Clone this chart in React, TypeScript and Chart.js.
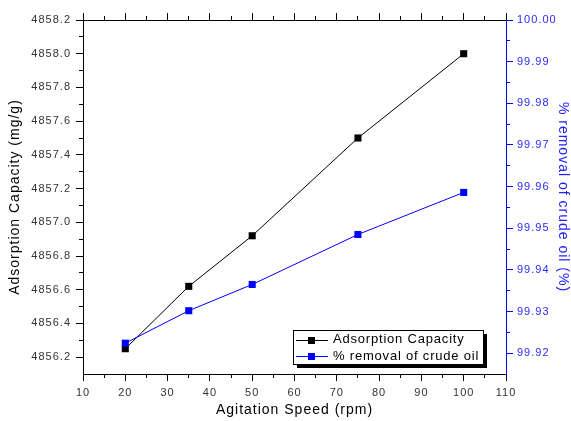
import React, { useEffect, useRef } from 'react';
import { Chart, registerables } from 'chart.js';

Chart.register(...registerables);

const speeds = [20, 35, 50, 75, 100];
const adsorptionCapacity = [4856.25, 4856.62, 4856.92, 4857.5, 4858.0];
const crudeOilRemoval = [99.9224, 99.9302, 99.9365, 99.9485, 99.9586];

const xTicks = [10, 20, 30, 40, 50, 60, 70, 80, 90, 100, 110];
const xMinorTicks = [15, 25, 35, 45, 55, 65, 75, 85, 95, 105];
const leftTicks = [4856.2, 4856.4, 4856.6, 4856.8, 4857.0, 4857.2, 4857.4, 4857.6, 4857.8, 4858.0, 4858.2];
const leftMinorTicks = [4856.3, 4856.5, 4856.7, 4856.9, 4857.1, 4857.3, 4857.5, 4857.7, 4857.9, 4858.1];
const rightTicks = [99.92, 99.93, 99.94, 99.95, 99.96, 99.97, 99.98, 99.99, 100.0];
const rightMinorTicks = [99.925, 99.935, 99.945, 99.955, 99.965, 99.975, 99.985, 99.995];

const seriesNames = ['Adsorption Capacity', '% removal of crude oil'];
const xTitle = 'Agitation Speed (rpm)';
const leftTitle = 'Adsorption Capacity (mg/g)';
const rightTitle = '% removal of crude oil (%)';

const FONT = "'Liberation Sans', Arial, sans-serif";
const BLUE = '#0000ff';

const align = (p: number) => Math.round(p - 0.5) + 0.5;

const customPlugin = {
  id: 'customDecor',
  beforeDraw(chart: any) {
    chart.ctx.letterSpacing = '1px';
  },
  afterDraw(chart: any) {
    const ctx = chart.ctx;
    const { left, right, top, bottom } = chart.chartArea;
    const xs = chart.scales.x;
    const ys = chart.scales.y;
    const y1s = chart.scales.y1;
    ctx.save();
    ctx.letterSpacing = '0px';
    ctx.lineWidth = 1;
    // minor ticks
    ctx.strokeStyle = '#000';
    ctx.beginPath();
    xMinorTicks.forEach((v) => {
      const x = align(xs.getPixelForValue(v));
      ctx.moveTo(x, bottom);
      ctx.lineTo(x, bottom + 4);
      ctx.moveTo(x, top);
      ctx.lineTo(x, top - 4);
    });
    leftMinorTicks.forEach((v) => {
      const y = align(ys.getPixelForValue(v));
      ctx.moveTo(left, y);
      ctx.lineTo(left - 4, y);
    });
    ctx.stroke();
    ctx.strokeStyle = BLUE;
    ctx.beginPath();
    rightMinorTicks.forEach((v) => {
      const y = align(y1s.getPixelForValue(v));
      ctx.moveTo(right, y);
      ctx.lineTo(right + 4, y);
    });
    ctx.stroke();

    // legend box with shadow
    const bx = 293, by = 330, bw = 190, bh = 34;
    ctx.fillStyle = '#000';
    ctx.fillRect(bx + 4, by + 4, bw, bh);
    ctx.fillStyle = '#fff';
    ctx.fillRect(bx, by, bw, bh);
    ctx.strokeStyle = '#000';
    ctx.strokeRect(bx + 0.5, by + 0.5, bw, bh);

    const rows = [
      { y: 339.5, color: '#000', text: seriesNames[0] },
      { y: 356, color: BLUE, text: seriesNames[1] },
    ];
    rows.forEach((r) => {
      const ly = Math.round(r.y) + 0.5;
      ctx.strokeStyle = r.color;
      ctx.beginPath();
      ctx.moveTo(296, ly);
      ctx.lineTo(328, ly);
      ctx.stroke();
      ctx.fillStyle = r.color;
      ctx.fillRect(308, Math.round(r.y) - 3, 7, 7);
      ctx.fillStyle = '#000';
      ctx.font = `13px ${FONT}`;
      ctx.letterSpacing = '0.8px';
      ctx.textAlign = 'left';
      ctx.textBaseline = 'middle';
      ctx.fillText(r.text, 333, r.y);
    });
    ctx.restore();
    ctx.letterSpacing = '0px';
  },
};

export default function App() {
  const ref = useRef<HTMLCanvasElement | null>(null);

  useEffect(() => {
    document.body.style.margin = '0';
    const canvas = ref.current;
    if (!canvas) return;
    const tickGrid = (color: string) => ({
      display: true,
      drawOnChartArea: false,
      drawTicks: true,
      tickLength: 7,
      color,
      lineWidth: 1,
    });
    const chart = new Chart(canvas, {
      type: 'line',
      data: {
        datasets: [
          {
            label: seriesNames[1],
            data: speeds.map((s, i) => ({ x: s, y: crudeOilRemoval[i] })),
            xAxisID: 'x',
            yAxisID: 'y1',
            borderColor: BLUE,
            backgroundColor: BLUE,
            borderWidth: 1,
            pointStyle: 'rect',
            pointRadius: 5,
            pointBorderWidth: 0,
            tension: 0,
            order: 0,
          },
          {
            label: seriesNames[0],
            data: speeds.map((s, i) => ({ x: s, y: adsorptionCapacity[i] })),
            xAxisID: 'x',
            yAxisID: 'y',
            borderColor: '#000',
            backgroundColor: '#000',
            borderWidth: 1,
            pointStyle: 'rect',
            pointRadius: 5,
            pointBorderWidth: 0,
            tension: 0,
            order: 1,
          },
        ],
      },
      options: {
        responsive: false,
        devicePixelRatio: 1,
        animation: false,
        layout: { padding: 0 },
        plugins: {
          legend: { display: false },
          tooltip: { enabled: false },
        },
        scales: {
          x: {
            type: 'linear',
            position: 'bottom',
            min: 10,
            max: 110,
            afterBuildTicks: (s: any) => {
              s.ticks = xTicks.map((v) => ({ value: v }));
            },
            afterFit: (s: any) => {
              s.height = 47;
            },
            grid: tickGrid('#000'),
            border: { display: true, color: '#000', width: 1 },
            ticks: {
              color: '#333',
              font: { family: FONT, size: 11 },
              padding: 5,
              maxRotation: 0,
              autoSkip: false,
              callback: (v: any) => String(v),
            },
            title: {
              display: true,
              text: xTitle,
              color: '#000',
              font: { family: FONT, size: 14 },
              padding: { top: 0, bottom: 2 },
            },
          },
          x2: {
            type: 'linear',
            position: 'top',
            min: 10,
            max: 110,
            afterBuildTicks: (s: any) => {
              s.ticks = xTicks.map((v) => ({ value: v }));
            },
            afterFit: (s: any) => {
              s.height = 20;
            },
            grid: tickGrid('#000'),
            border: { display: true, color: '#000', width: 1 },
            ticks: { display: false },
          },
          y: {
            type: 'linear',
            position: 'left',
            min: 4856.1,
            max: 4858.2,
            afterBuildTicks: (s: any) => {
              s.ticks = leftTicks.map((v) => ({ value: v }));
            },
            afterFit: (s: any) => {
              s.width = 83;
            },
            grid: tickGrid('#000'),
            border: { display: true, color: '#000', width: 1 },
            ticks: {
              color: '#333',
              font: { family: FONT, size: 11 },
              padding: 5,
              autoSkip: false,
              callback: (v: any) => Number(v).toFixed(1),
            },
            title: {
              display: true,
              text: leftTitle,
              color: '#000',
              font: { family: FONT, size: 14 },
              padding: { top: 7, bottom: 0 },
            },
          },
          y1: {
            type: 'linear',
            position: 'right',
            min: 99.915,
            max: 100.0,
            afterBuildTicks: (s: any) => {
              s.ticks = rightTicks.map((v) => ({ value: v }));
            },
            afterFit: (s: any) => {
              s.width = 65;
            },
            grid: tickGrid(BLUE),
            border: { display: true, color: BLUE, width: 1 },
            ticks: {
              color: '#2a2aff',
              font: { family: FONT, size: 11 },
              padding: 4,
              autoSkip: false,
              callback: (v: any) => Number(v).toFixed(2),
            },
            title: {
              display: true,
              text: rightTitle,
              color: '#2020ff',
              font: { family: FONT, size: 14 },
              padding: { top: 0, bottom: 0 },
            },
          },
        },
      },
      plugins: [customPlugin],
    } as any);
    return () => chart.destroy();
  }, []);

  return (
    <div style={{ position: 'absolute', left: 0, top: 0, width: 571, height: 421, background: '#fff' }}>
      <canvas ref={ref} width={571} height={421} style={{ display: 'block' }} />
    </div>
  );
}
